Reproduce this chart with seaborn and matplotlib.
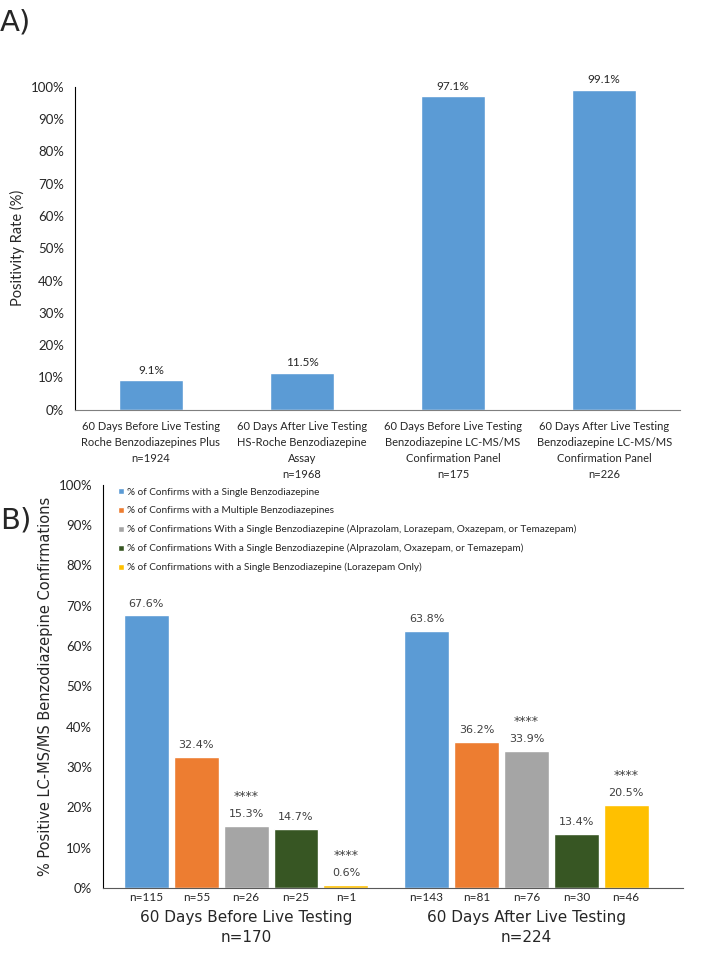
import matplotlib.pyplot as plt
import numpy as np
import pandas as pd
import seaborn as sns

# Panel A data
a_labels = [
    "60 Days Before Live Testing\nRoche Benzodiazepines Plus\nn=1924",
    "60 Days After Live Testing\nHS-Roche Benzodiazepine\nAssay\nn=1968",
    "60 Days Before Live Testing\nBenzodiazepine LC-MS/MS\nConfirmation Panel\nn=175",
    "60 Days After Live Testing\nBenzodiazepine LC-MS/MS\nConfirmation Panel\nn=226",
]
a_values = [9.1, 11.5, 97.1, 99.1]

# Panel B data
periods = ["60 Days Before Live Testing\nn=170", "60 Days After Live Testing\nn=224"]
categories = [
    "% of Confirms with a Single Benzodiazepine",
    "% of Confirms with a Multiple Benzodiazepines",
    "% of Confirmations With a Single Benzodiazepine (Alprazolam, Lorazepam, Oxazepam, or Temazepam)",
    "% of Confirmations With a Single Benzodiazepine (Alprazolam, Oxazepam, or Temazepam)",
    "% of Confirmations with a Single Benzodiazepine (Lorazepam Only)",
]
before_values = [67.6, 32.4, 15.3, 14.7, 0.6]
after_values = [63.8, 36.2, 33.9, 13.4, 20.5]
before_n = [115, 55, 26, 25, 1]
after_n = [143, 81, 76, 30, 46]
before_stars = ["", "", "****", "", "****"]
after_stars = ["", "", "****", "", "****"]
colors = ["#5B9BD5", "#ED7D31", "#A5A5A5", "#375623", "#FFC000"]

sns.set_style("white")
plt.rcParams["font.family"] = ["Lato", "DejaVu Sans"]

fig = plt.figure(figsize=(7.17, 9.64), dpi=100)

# ---------------- Panel A ----------------
axA = fig.add_axes([0.105, 0.575, 0.843, 0.335])
dfA = pd.DataFrame({"label": a_labels, "value": a_values})
sns.barplot(data=dfA, x="label", y="value", color="#5B9BD5", width=0.42,
            saturation=1, ax=axA)
axA.set_ylim(0, 100)
axA.set_yticks(np.arange(0, 101, 10))
axA.set_yticklabels([f"{t}%" for t in range(0, 101, 10)], fontsize=9.5)
axA.set_xlabel("")
axA.set_ylabel("Positivity Rate (%)", fontsize=10.5)
for lab in axA.get_xticklabels():
    lab.set_linespacing(1.55)
axA.tick_params(axis="x", labelsize=8, length=0, pad=8)
axA.tick_params(axis="y", length=0, pad=8)
for sp in ["top", "right"]:
    axA.spines[sp].set_visible(False)
axA.spines["left"].set_color("black")
axA.spines["bottom"].set_color("#7f7f7f")
for bar, v in zip(axA.patches, a_values):
    axA.annotate(f"{v}%", (bar.get_x() + bar.get_width() / 2, v),
                 xytext=(0, 3), textcoords="offset points",
                 ha="center", va="bottom", fontsize=8.5)

fig.text(0.0, 0.977, "A)", fontsize=21, va="center", family="DejaVu Sans")

# ---------------- Panel B ----------------
axB = fig.add_axes([0.144, 0.079, 0.809, 0.418])
rows = []
for p, vals, ns in [(periods[0], before_values, before_n),
                    (periods[1], after_values, after_n)]:
    for c, v, n in zip(categories, vals, ns):
        rows.append({"period": p, "category": c, "value": v, "n": n})
dfB = pd.DataFrame(rows)
sns.barplot(data=dfB, x="period", y="value", hue="category",
            hue_order=categories, palette=colors, width=0.89, gap=0.1,
            saturation=1, ax=axB)
axB.set_ylim(0, 100)
axB.set_xlim(-0.51, 1.56)
axB.set_yticks(np.arange(0, 101, 10))
axB.set_yticklabels([f"{t}%" for t in range(0, 101, 10)], fontsize=9.5)
axB.set_xlabel("")
axB.set_ylabel("% Positive LC-MS/MS Benzodiazepine Confirmations",
               fontsize=10.5, family="DejaVu Sans")
axB.set_xticks([0, 1])
axB.set_xticklabels(periods, fontsize=11, family="DejaVu Sans", linespacing=1.45)
axB.tick_params(axis="x", length=0, pad=16)
axB.tick_params(axis="y", length=0, pad=8)
for sp in ["top", "right"]:
    axB.spines[sp].set_visible(False)
axB.spines["left"].set_color("black")
axB.spines["bottom"].set_color("#595959")

ns_all = [before_n, after_n]
vals_all = [before_values, after_values]
stars_all = [before_stars, after_stars]
for ci, cont in enumerate(axB.containers):
    for gi, bar in enumerate(cont):
        xc = bar.get_x() + bar.get_width() / 2
        v = vals_all[gi][ci]
        axB.annotate(f"{v}%", (xc, v), xytext=(0, 5), textcoords="offset points",
                     ha="center", va="bottom", fontsize=8, color="#404040",
                     family="DejaVu Sans")
        if stars_all[gi][ci]:
            axB.annotate(stars_all[gi][ci], (xc, v), xytext=(0, 17),
                         textcoords="offset points", ha="center", va="bottom",
                         fontsize=9, color="#404040", family="DejaVu Sans")
        axB.annotate(f"n={ns_all[gi][ci]}", (xc, 0), xytext=(0, -3),
                     textcoords="offset points", ha="center", va="top",
                     fontsize=8.5, color="#262626")

handles, labels = axB.get_legend_handles_labels()
axB.legend(handles, labels, loc="upper left", bbox_to_anchor=(0.01, 1.015),
           frameon=False, fontsize=7.2, handlelength=0.6, handleheight=0.6,
           handletextpad=0.3, labelspacing=0.95)

fig.text(0.0, 0.46, "B)", fontsize=21, va="center", family="DejaVu Sans")

fig.savefig("out.png", dpi=100)
